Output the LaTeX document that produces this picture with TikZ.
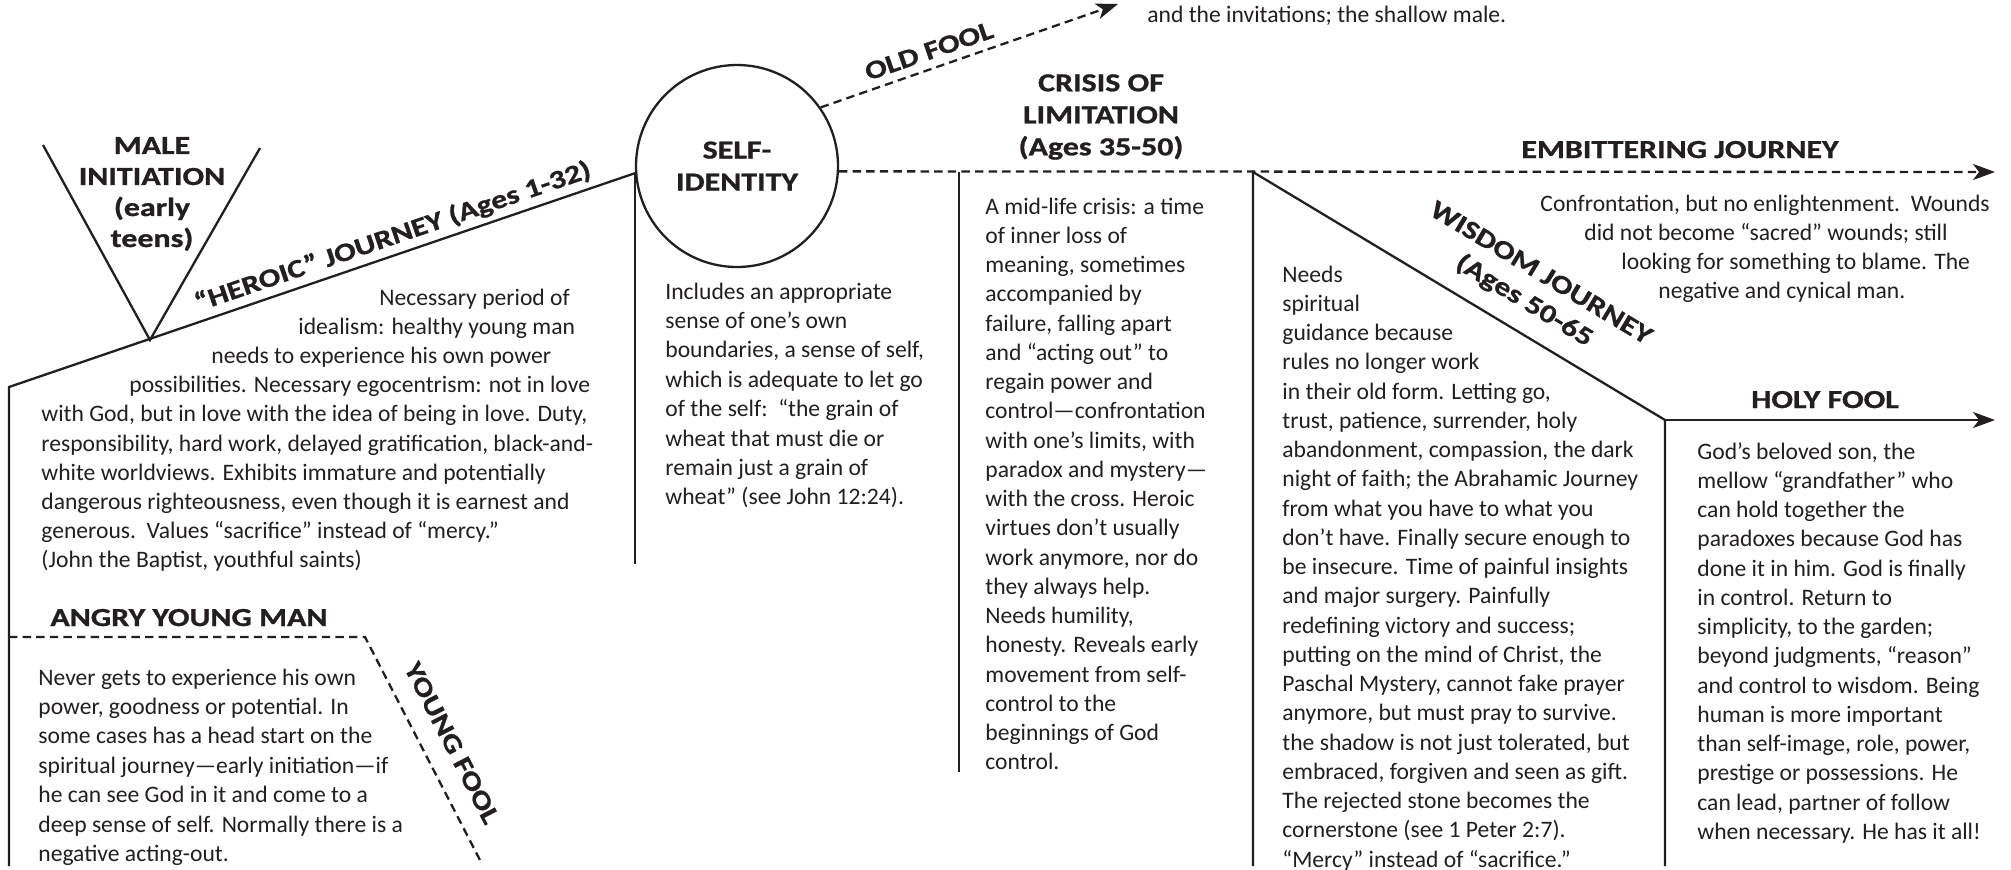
\documentclass[tikz,border=0pt]{standalone}
\usepackage{fontspec}
\setmainfont{Carlito}
\newfontfamily\headfont{Carlito}[FakeStretch=1.23, BoldFeatures={FakeBold=1}]
\usetikzlibrary{arrows.meta}
\definecolor{ink}{RGB}{35,31,32}
\begin{document}
\begin{tikzpicture}[x=0.5pt,y=-0.5pt,color=ink,
  body/.style={font=\fontsize{11.8}{14}\selectfont, inner sep=0pt, anchor=base west},
  head/.style={font=\headfont\bfseries\fontsize{13}{16}\selectfont, inner sep=0pt},
  ln/.style={line width=1.15pt},
  dsh/.style={line width=1.15pt, dash pattern=on 4.2pt off 2.6pt},
  arrowtip/.style={-{Stealth[length=11pt,width=8pt,inset=3pt]}}]
\fill[white] (0,0) rectangle (2011,869);
\useasboundingbox (0,0) rectangle (2011,869);

% ---------- coordinates ----------
\coordinate (hs) at (9,387);
\coordinate (lb) at (9,866);
\coordinate (vl) at (43,145);
\coordinate (vb) at (150,340);
\coordinate (vr) at (260,148);
\coordinate (sb) at (635,564);
\coordinate (oft) at (1118,4);
\coordinate (et) at (1995,172);
\coordinate (ct) at (959,172);
\coordinate (cb) at (959,772);
\coordinate (wt) at (1253,172);
\coordinate (wb) at (1253,866);
\coordinate (hc) at (1665,420);
\coordinate (ht) at (1995,420);
\coordinate (hb) at (1665,866);
\coordinate (as) at (9,637);
\coordinate (ac) at (365,637);
\coordinate (ae) at (481,862);

% ---------- circle ----------
\node[draw, circle, ln, minimum size=101pt, inner sep=0pt, head, align=center] (circ) at (737,166) {SELF-\\IDENTITY};

% ---------- lines ----------
\draw[ln] (vl) -- (vb) -- (vr);
\draw[ln] (lb) -- (hs) -- (circ.184);
\draw[ln] (circ.184) -- (circ.184 |- sb);
\draw[dsh, arrowtip] (circ.35) -- (oft);
\draw[dsh, arrowtip] (circ.-3) -- (et);
\draw[ln] (ct) -- (cb);
\draw[ln] (wb) -- (wt) -- (hc) -- (hb);
\draw[ln, arrowtip] (hc) -- (ht);
\draw[dsh] (as) -- (ac) -- (ae);

% ---------- headings ----------
\node[body] (topline) at (1147,22) {and the invitations; the shallow male.};
\node[head, align=center, font=\headfont\bfseries\fontsize{13}{15.5}\selectfont] (male) at (152,194) {MALE\\INITIATION\\(early\\teens)};
\node[head, rotate=18.87] (heroic) at (393,237) {“HEROIC” JOURNEY (Ages 1-32)};
\node[head, rotate=19.07] (oldfool) at (929,51) {OLD FOOL};
\node[head, align=center] (crisis) at (1101,117) {CRISIS OF\\LIMITATION\\(Ages 35-50)};
\node[head, anchor=base] (emb) at (1680,158) {EMBITTERING JOURNEY};
\node[head, align=center, rotate=-31.04] (wisdom) at (1532,288) {WISDOM JOURNEY\\(Ages 50-65};
\node[head, anchor=base] (holy) at (1825,408) {HOLY FOOL};
\node[head, anchor=base west] (angry) at (50,626) {ANGRY YOUNG MAN};
\node[head, rotate=-62.7] (youngfool) at (452,743) {YOUNG FOOL};

% ---------- heroic text ----------
\node[body] (hb1) at (379,305) {Necessary period of};
\node[body] (hb2) at (298,334.2) {idealism: healthy young man};
\node[body] (hb3) at (211,363.4) {needs to experience his own power};
\node[body] (hb4) at (129,392.6) {possibilities. Necessary egocentrism: not in love};
\foreach \t [count=\k from 0] in {{with God, but in love with the idea of being in love. Duty,},{responsibility, hard work, delayed gratification, black-and-},{white worldviews. Exhibits immature and potentially},{dangerous righteousness, even though it is earnest and},{generous.\ \ Values “sacrifice” instead of “mercy.”},{(John the Baptist, youthful saints)}}
  \node[body] (hr\k) at (41,{421.8+29.2*\k}) {\t};

% ---------- self-identity text ----------
\foreach \t [count=\k from 0] in {{Includes an appropriate},{sense of one’s own},{boundaries, a sense of self,},{which is adequate to let go},{of the self:\ \ “the grain of},{wheat that must die or},{remain just a grain of},{wheat” (see John 12:24).}}
  \node[body] (si\k) at (665,{299+29.4*\k}) {\t};

% ---------- crisis text ----------
\foreach \t [count=\k from 0] in {{A mid-life crisis: a time},{of inner loss of},{meaning, sometimes},{accompanied by},{failure, falling apart},{and “acting out” to},{regain power and},{control—confrontation},{with one’s limits, with},{paradox and mystery—},{with the cross. Heroic},{virtues don’t usually},{work anymore, nor do},{they always help.},{Needs humility,},{honesty. Reveals early},{movement from self-},{control to the},{beginnings of God},{control.}}
  \node[body] (cr\k) at (985,{214+29.26*\k}) {\t};

% ---------- embittering text ----------
\node[body] (eb1) at (1540,211) {Confrontation, but no enlightenment.\ \ Wounds};
\node[body] (eb2) at (1584,240.3) {did not become “sacred” wounds; still};
\node[body] (eb3) at (1621,269.6) {looking for something to blame. The};
\node[body] (eb4) at (1658,298.9) {negative and cynical man.};

% ---------- wisdom text ----------
\foreach \t [count=\k from 0] in {{Needs},{spiritual},{guidance because},{rules no longer work},{in their old form. Letting go,},{trust, patience, surrender, holy},{abandonment, compassion, the dark},{night of faith; the Abrahamic Journey},{from what you have to what you},{don’t have. Finally secure enough to},{be insecure. Time of painful insights},{and major surgery. Painfully},{redefining victory and success;},{putting on the mind of Christ, the},{Paschal Mystery, cannot fake prayer},{anymore, but must pray to survive.},{the shadow is not just tolerated, but},{embraced, forgiven and seen as gift.},{The rejected stone becomes the},{cornerstone (see 1 Peter 2:7).},{“Mercy” instead of “sacrifice.”}}
  \node[body] (wi\k) at (1282,{282+29.25*\k}) {\t};

% ---------- holy fool text ----------
\foreach \t [count=\k from 0] in {{God’s beloved son, the},{mellow “grandfather” who},{can hold together the},{paradoxes because God has},{done it in him. God is finally},{in control. Return to},{simplicity, to the garden;},{beyond judgments, “reason”},{and control to wisdom. Being},{human is more important},{than self-image, role, power,},{prestige or possessions. He},{can lead, partner of follow},{when necessary. He has it all!}}
  \node[body] (ho\k) at (1697,{459+29.25*\k}) {\t};

% ---------- angry young man text ----------
\foreach \t [count=\k from 0] in {{Never gets to experience his own},{power, goodness or potential. In},{some cases has a head start on the},{spiritual journey—early initiation—if},{he can see God in it and come to a},{deep sense of self. Normally there is a},{negative acting-out.}}
  \node[body] (an\k) at (38,{685+29.4*\k}) {\t};

\end{tikzpicture}
\end{document}
